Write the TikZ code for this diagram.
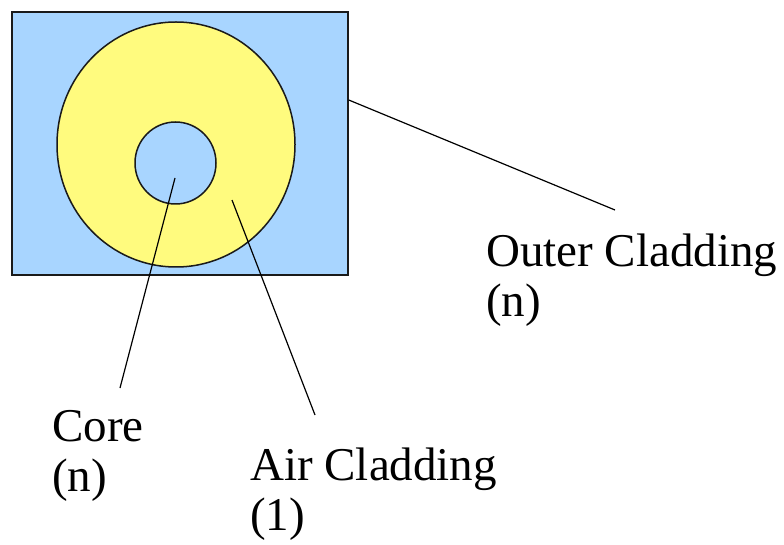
\documentclass[tikz,border=0pt]{standalone}
\usepackage{fontspec}
\setmainfont{Liberation Serif}
\usepackage{xcolor}
\usetikzlibrary{positioning,shapes.geometric}
\definecolor{skyfill}{HTML}{A8D5FF}
\definecolor{ringfill}{HTML}{FFFB7E}
\definecolor{edge}{HTML}{1A1A1A}
\tikzset{
  font=\fontsize{47}{50}\selectfont,
  block/.style={draw=edge, line width=1.5pt, fill=skyfill, inner sep=0pt},
  ring/.style={ellipse, draw=edge, line width=1.5pt, fill=ringfill, inner sep=0pt},
  hole/.style={ellipse, draw=edge, line width=1.5pt, fill=skyfill, inner sep=0pt},
  label/.style={anchor=north west, align=left, inner sep=0pt, text=black},
  leader/.style={line width=1.2pt, draw=black}
}

\begin{document}
\begin{tikzpicture}[x=1pt,y=-1pt]
  \useasboundingbox (0,0) rectangle (784,545);

  % fibre cross-section
  \node[block, minimum width=336pt, minimum height=263pt] (outer) at (180,143.5) {};
  \node[ring, minimum width=238pt, minimum height=245pt] (air) at (176,144.5) {};
  \node[hole, minimum width=81pt, minimum height=82pt] (core) at (175.5,163) {};

  % leader start points
  \coordinate (coretip) at (175,178);
  \coordinate (airtip)  at (232,200);
  \coordinate (outtip)  at (outer.east |- 0,100);

  % labels
  \node[label] (outlbl)  at (486,234) {Outer Cladding\\(n)};
  \node[label] (corelbl) at (52,410)  {Core\\(n)};
  \node[label] (airlbl)  at (250,448) {Air Cladding\\(1)};

  \coordinate (outend)  at (615,210);
  \coordinate (coreend) at (120,388);
  \coordinate (airend)  at (315,415);

  % leaders
  \draw[leader] (outtip) -- (outend);
  \draw[leader] (coretip) -- (coreend);
  \draw[leader] (airtip) -- (airend);
\end{tikzpicture}
\end{document}
